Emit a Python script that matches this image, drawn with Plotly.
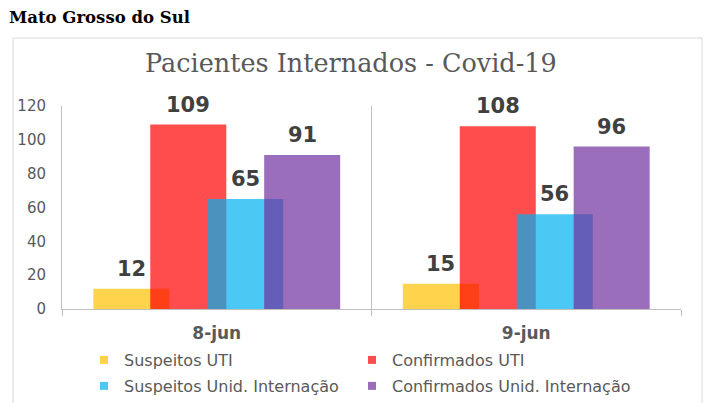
import plotly.graph_objects as go

categories = ["8-jun", "9-jun"]
series_names = ["Suspeitos UTI", "Confirmados UTI", "Suspeitos Unid. Internação", "Confirmados Unid. Internação"]
suspeitos_uti = [12, 15]
confirmados_uti = [109, 108]
suspeitos_unid = [65, 56]
confirmados_unid = [91, 96]
y_ticks = [0, 20, 40, 60, 80, 100, 120]

series_values = [suspeitos_uti, confirmados_uti, suspeitos_unid, confirmados_unid]
base_colors = ["#FFC000", "#FF0000", "#00B0F0", "#7030A0"]
legend_colors = ["#FFD24D", "#FF4D4D", "#4DC8F5", "#9B6EBC"]

BAR_W = 0.2456
STEP = 0.184
offsets_center = [-1.5 * STEP, -0.5 * STEP, 0.5 * STEP, 1.5 * STEP]

OFF = 8  # page body margin offset
W, H = 716, 403
L = 62 - OFF
T = 106 - OFF
R = W - (681 - OFF)
B = H - (309 - OFF)
PW = W - L - R
PH = H - T - B


def px_x(p):
    return (p - OFF - L) / PW


def px_y(p):
    return (H - B - (p - OFF)) / PH


fig = go.Figure()
xs = list(range(len(categories)))
annotations = []
for i, (name, vals, col) in enumerate(zip(series_names, series_values, base_colors)):
    fig.add_trace(go.Bar(
        x=xs, y=vals, name=name, width=BAR_W, offset=offsets_center[i] - BAR_W / 2,
        marker=dict(color=col, line=dict(width=0)), opacity=0.7, showlegend=False,
        hoverinfo="y"))
    for xi, v in zip(xs, vals):
        annotations.append(dict(
            x=xi + offsets_center[i], y=v, xref="x", yref="y", text=str(v), showarrow=False,
            yanchor="middle", yshift=20,
            font=dict(family="DejaVu Sans", size=21, color="#404040", weight="bold")))

legend_ids = ["legend", "legend2", "legend3", "legend4"]
legend_pos = [(84, 360), (352, 360), (84, 386), (352, 386)]

# legend proxies
for i, (name, col) in enumerate(zip(series_names, legend_colors)):
    fig.add_trace(go.Scatter(
        x=[None], y=[None], mode="markers", name=name,
        marker=dict(symbol="square", size=8, color=col),
        legend=legend_ids[i], showlegend=True))

annotations.append(dict(
    x=px_x(7), y=px_y(17), xref="paper", yref="paper", xanchor="left", yanchor="middle",
    text="<b>Mato Grosso do Sul</b>", showarrow=False,
    font=dict(family="DejaVu Serif", size=16.5, color="#000000")))
annotations.append(dict(
    x=px_x(351), y=px_y(63), xref="paper", yref="paper", xanchor="center", yanchor="middle",
    text="Pacientes Internados - Covid-19", showarrow=False,
    font=dict(family="DejaVu Serif", size=25.5, color="#595959")))

legend_common = dict(orientation="h", xref="paper", yref="paper", xanchor="left", yanchor="middle",
                     bgcolor="rgba(0,0,0,0)",
                     font=dict(family="DejaVu Sans", size=16, color="#595959"))
legend_layout = {}
for lid, (lx, ly) in zip(legend_ids, legend_pos):
    legend_layout[lid] = dict(x=px_x(lx), y=px_y(ly), **legend_common)

fig.update_layout(
    width=W, height=H,
    margin=dict(l=L, r=R, t=T, b=B, autoexpand=False),
    paper_bgcolor="white", plot_bgcolor="white",
    barmode="overlay",
    annotations=annotations,
    shapes=[dict(type="rect", xref="paper", yref="paper",
                 x0=px_x(13), x1=px_x(702), y0=px_y(430), y1=px_y(38),
                 line=dict(color="#D9D9D9", width=1), fillcolor="rgba(0,0,0,0)", layer="below")],
    xaxis=dict(range=[-0.5, 1.5], tickvals=xs, ticktext=categories, ticks="", showgrid=False,
               zeroline=False, showline=True, linecolor="#BFBFBF", linewidth=1,
               tickfont=dict(family="DejaVu Sans", size=17, color="#595959", weight="bold"),
               ticklabelstandoff=9,
               minor=dict(tickmode="linear", tick0=-0.5, dtick=1, ticks="outside", ticklen=6,
                          tickcolor="#BFBFBF", showgrid=True, gridcolor="#BFBFBF", gridwidth=1)),
    yaxis=dict(range=[0, 120], tickvals=y_ticks, showgrid=False, zeroline=False,
               showline=True, linecolor="#BFBFBF", linewidth=1, ticks="",
               ticklabelstandoff=12,
               tickfont=dict(family="DejaVu Sans", size=15, color="#595959")),
    **legend_layout,
)

fig.write_html("out.html")
